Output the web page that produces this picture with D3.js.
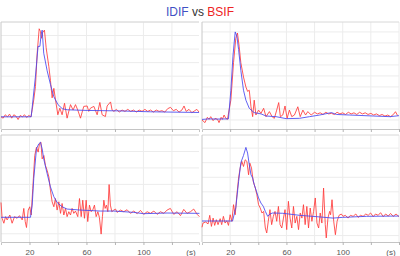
<!DOCTYPE html>
<html>
<head>
<meta charset="utf-8">
<script src="https://cdn.jsdelivr.net/npm/d3@7"></script>
<style>
  body { margin: 0; background: #fff; }
  svg { display: block; font-family: "Liberation Sans", Arial, sans-serif; }
</style>
</head>
<body>
<svg id="chart" width="400" height="256"></svg>
<script>
// time (s), value pairs; y units are arbitrary (one gridline = 1)
const xTickLabels = [20, 60, 100];

const tlBlue = [[0,0],[21.2,0],[24.2,3.0],[26,5.2],[27.3,5.2],[28.2,6.1],[28.9,6.4],[30,4.7],[32.4,3.4],[34.7,2.4],[37,1.5],[40,0.9],[43,0.6],[46.4,0.52],[60.5,0.47],[81.5,0.44],[105,0.37],[139,0.32]];
const tlRed = [[0,0],[1.5,-0.1],[3,0.15],[4.5,0],[6,0.2],[7.5,-0.1],[9,0.15],[10.5,0.05],[12,-0.2],[13.5,0.1],[15,0],[16.5,0.15],[18,-0.05],[19.5,0.1],[21,0],
  [21.9,0.52],[23,1.26],[24.2,2.25],[25.4,4.7],[26.8,6.5],[27.7,6.3],[28.4,5.8],[29.1,6.2],[30.5,6.4],[31.7,5.1],[33.6,3.7],[34.7,2.7],[35.9,1.4],[37.1,2.1],[38.2,1.3],
  [39.9,0.15],[41.3,0.64],[42.9,0.15],[44.6,1.0],[46.4,-0.1],[48.8,0.9],[50.6,0.5],[52.3,0.9],[53.9,0.5],[55.8,-0.1],[58.1,0.77],[60.5,0.8],[61.6,0.4],[62.8,0.64],
  [65.2,0.77],[67.5,0.15],[69.4,1.06],[71,0.15],[73.3,0.02],[74.5,0.8],[76.9,1.1],[78,0.5],[79.2,0.4],[81,0.55],[83,0.35],[85,0.5],[87,0.4],[89,0.55],[91,0.4],
  [93,0.5],[95,0.35],[97,0.5],[99,0.4],[101,0.55],[103,0.4],[105,0.5],[107,0.35],[109,0.5],[111,0.4],[113,0.45],[115,0.35],[117,0.6],[119,0.7],[121,0.45],[123,0.55],
  [125,0.35],[127,0.5],[128.5,0.8],[130,0.4],[132,0.55],[134,0.3],[136,0.45],[137.5,0.55],[139,0.35]];

const trBlue = [[0,0.05],[5,0.1],[10,0.08],[18.8,0.1],[20.5,2.7],[22,5.8],[23.6,8.0],[24.8,7.6],[26,6.4],[27.6,4.5],[29.5,2.7],[31.2,1.8],[33.6,1.06],[37,0.67],[42,0.55],[45.5,0.36],[52.6,0.3],[59.8,0.12],[69.3,0.15],[76.4,0.3],[83.6,0.45],[92,0.67],[95.5,0.5],[105,0.45],[121.7,0.36],[133.6,0.3],[140,0.39]];
const trRed = [[0,0],[2.1,-0.24],[3.8,0.24],[5,0.06],[6.2,0.3],[7.9,-0.06],[9.3,0.15],[11,0.06],[12.1,-0.24],[13.6,0.24],[14.5,0.06],[15.7,0.45],[16.9,0.15],[18.1,0.06],
  [20.5,1.8],[22.4,5.2],[24,7.4],[25.2,7.9],[26.4,6.7],[27.6,5.2],[29.5,3.9],[31.2,3.0],[32.4,2.6],[33.6,2.7],[34.8,1.2],[36,0.3],[37.1,1.8],[38.3,0.45],[40.2,0.9],
  [41.9,0.6],[43.8,1.06],[45.5,0.3],[47.9,0.76],[49.8,0.3],[51.4,0.15],[53.1,0.9],[54.5,1.58],[55.7,0.3],[57.4,0.45],[59,1.27],[60.5,0.15],[62.1,0.9],[63.8,0.3],
  [65.7,0.45],[68.1,1.2],[69.8,0.3],[71.7,0.9],[73.6,0.45],[75.2,0.76],[77.6,0.45],[80,0.7],[82,0.55],[84,0.65],[86,0.5],[88,0.7],[90,0.55],[92,0.6],[94,0.5],
  [96,0.7],[98,0.55],[100,0.65],[102,0.5],[104,0.7],[106,0.55],[108,0.65],[110,0.5],[112,0.7],[114,0.55],[116,0.65],[118,0.5],[120,0.6],[122,0.45],[124,0.55],
  [126,0.4],[128,0.5],[130,0.35],[132,0.45],[134,0.3],[136,0.5],[137.5,0.75],[139,0.4]];

const blBlue = [[0,0],[20.7,0],[21.9,0.74],[23,2.35],[24.9,4.16],[26.5,4.46],[27.7,4.56],[28.9,4.16],[30,3.55],[32.4,2.65],[34.7,1.85],[37.1,1.25],[39.4,0.9],[42.9,0.64],[46.4,0.5],[55.8,0.44],[69.8,0.38],[79.2,0.38],[93.2,0.3],[100,0.22],[116.6,0.26],[139.3,0.24]];
const blRed = [[0,0.9],[0.8,-0.06],[2,-0.36],[3.2,0.04],[4.3,-0.16],[6.2,0.14],[7.8,-0.36],[9.5,0.04],[11.3,-0.06],[13,0.1],[14.9,-0.16],[16,0.54],[17,-0.26],[17.9,-0.62],
  [19.1,0.44],[20.2,0.64],[21.2,0.14],[22.3,1.75],[23.7,3.75],[24.9,4.26],[26.1,3.96],[27,4.46],[28,4.56],[28.9,3.55],[30.1,3.75],[31.2,3.15],[32.4,2.85],[33.6,2.45],
  [34.7,1.65],[35.9,0.94],[37.1,0.64],[38.2,1.14],[39.4,0.44],[40.6,0.94],[41.8,0.24],[42.9,0.84],[44.1,0.14],[45.3,0.54],[46.4,0.04],[47.6,0.34],[48.8,0.14],
  [49.9,0.54],[51.1,0.24],[52.3,0.38],[53.9,0.04],[55.1,1.14],[56.3,0.04],[57.4,1.04],[58.6,-0.06],[59.8,1.04],[60.9,-0.26],[62.1,0.74],[63.3,0.34],[64.4,0.44],
  [65.6,0.74],[66.8,0.04],[68,0.34],[69.1,-0.02],[70.3,-1.02],[71.2,0.04],[72.2,1.04],[73.1,0.54],[74,0.74],[75,0.34],[75.9,1.99],[76.8,0.74],[77.8,0.34],[79.2,0.44],
  [80.4,0.5],[81.5,0.3],[83.9,0.44],[86.2,0.34],[88.5,0.46],[90.9,0.24],[93.2,0.38],[95.6,0.22],[97.9,0.42],[100.2,0.18],[102.6,0.34],[104.9,0.24],[107.3,0.38],
  [109.6,0.18],[111.9,0.34],[114.3,0.24],[116.6,0.44],[118.9,0.54],[121.3,0.18],[123.6,0.34],[126,0.1],[128.3,0.48],[130.6,0.24],[133,0.34],[135.3,0.5],[137.7,0.18],[139.3,0.04]];

const brBlue = [[0,0],[21.7,0],[24,0.9],[26,2.7],[27.6,4.0],[29.5,4.5],[31.2,5.05],[32.4,4.66],[33.6,3.86],[34.8,3.17],[36,2.95],[37.1,2.5],[38.8,2.0],[40.2,1.58],[41.9,1.23],[43.6,1.0],[45,0.66],[46.7,0.32],[48.3,0.48],[50.2,0.55],[57.4,0.53],[69.3,0.39],[81.2,0.3],[93.1,0.2],[100,0.25],[117,0.32],[140,0.34]];
const brRed = [[0,-0.43],[0.7,-0.14],[2.6,-0.07],[4.3,-0.2],[5.5,0.39],[6.7,-0.37],[7.9,0.2],[9,-0.3],[10.2,0.09],[11.4,-0.25],[12.9,0.16],[14,-0.25],[15.2,0.32],
  [16.4,-0.14],[17.6,0.02],[18.8,-0.3],[20,0.43],[21.2,-0.02],[22.4,1.12],[23.6,0.43],[24.8,1.8],[26,2.95],[27.1,3.63],[28.3,4.09],[29.5,3.74],[30.7,4.2],[31.9,4.09],
  [33.1,3.17],[34,3.97],[35.2,3.63],[36.4,2.72],[37.9,2.26],[39,1.8],[40.2,1.12],[41.4,0.89],[42.6,0.55],[43.8,0.66],[45,-0.48],[46,-0.82],[47.1,-0.02],[48.3,0.78],
  [49.5,-0.25],[50.7,0.32],[51.9,0.66],[53.1,-0.02],[54.3,1.0],[55.5,-0.25],[56.7,-0.48],[57.9,0.2],[59,0.78],[60.2,-0.59],[61.4,1.35],[62.6,0.2],[63.8,-0.48],
  [65,1.0],[66.2,-0.14],[67.4,0.32],[68.6,-0.59],[69.8,0.55],[71,0.2],[72.1,1.12],[73.3,-0.25],[74.5,1.0],[75.7,-0.48],[76.9,0.89],[78.1,-0.02],[79.3,0.66],
  [80.5,1.58],[81.7,-0.14],[82.9,-0.48],[84,0.55],[85.2,-0.14],[86.4,2.26],[87.6,-0.25],[88.3,-1.16],[89.5,0.2],[90.7,0.66],[91.4,0.43],[92.4,1.46],[93.6,-0.02],
  [94.8,-0.94],[96,-0.02],[97.4,0.39],[99,0.48],[100.2,0.32],[101.9,0.39],[103.8,0.2],[105.5,0.39],[107.4,0.32],[109.3,0.48],[111,0.25],[112.6,0.39],[114.5,0.32],
  [116.4,0.48],[118.1,0.39],[119.8,0.55],[121.7,0.3],[123.3,0.48],[125.2,0.39],[126.9,0.57],[128.8,0.3],[130.5,0.48],[132.4,0.34],[134,0.52],[135.9,0.32],[137.9,0.48],[140,0.3]];

const blueColor = '#4646f0';
const redColor = '#ff3b3b';

const svg = d3.select('#chart');

// title
const title = svg.append('text')
  .attr('x', 200).attr('y', 16)
  .attr('text-anchor', 'middle')
  .style('font-size', '12px');
title.append('tspan').attr('fill', '#3f51c4').text('IDIF');
title.append('tspan').attr('fill', '#333').text(' vs ');
title.append('tspan').attr('fill', '#ee2424').text('BSIF');

const panels = [
  { x: [1, 199], y: [22, 129], t: [0, 139], v: [-0.9, 7.0], blue: tlBlue, red: tlRed, labels: false },
  { x: [202, 399], y: [22, 129], t: [0, 140], v: [-0.82, 8.9], blue: trBlue, red: trRed, labels: false },
  { x: [1, 199], y: [135, 242], t: [0, 139], v: [-1.5, 5.0], blue: blBlue, red: blRed, labels: true },
  { x: [202, 399], y: [135, 242], t: [0, 140], v: [-1.44, 5.9], blue: brBlue, red: brRed, labels: true },
];

panels.forEach((p, i) => {
  const x = d3.scaleLinear().domain(p.t).range(p.x);
  const y = d3.scaleLinear().domain(p.v).range([p.y[1], p.y[0]]);
  const g = svg.append('g').attr('class', 'panel');

  // gridlines
  const xTicks = d3.range(0, p.t[1] + 0.01, 20).filter(d => d > 0);
  const yTicks = d3.range(Math.ceil(p.v[0]), Math.floor(p.v[1]) + 1);
  g.selectAll('.gx').data(xTicks).join('line')
    .attr('x1', d => x(d)).attr('x2', d => x(d))
    .attr('y1', p.y[0]).attr('y2', p.y[1])
    .attr('stroke', '#ececec').attr('stroke-width', 1);
  g.selectAll('.gy').data(yTicks).join('line')
    .attr('x1', p.x[0]).attr('x2', p.x[1])
    .attr('y1', d => y(d)).attr('y2', d => y(d))
    .attr('stroke', '#ececec').attr('stroke-width', 1);

  // frame (top + left)
  g.append('line').attr('x1', p.x[0]).attr('x2', p.x[1]).attr('y1', p.y[0]).attr('y2', p.y[0])
    .attr('stroke', '#d8d8d8');
  g.append('line').attr('x1', p.x[0]).attr('x2', p.x[0]).attr('y1', p.y[0]).attr('y2', p.y[1])
    .attr('stroke', '#c8c8c8');

  // bottom axis
  const axis = d3.axisBottom(x).tickValues(xTicks).tickSize(3)
    .tickFormat(d => p.labels && xTickLabels.includes(d) ? d : '');
  const ax = g.append('g').attr('transform', `translate(0,${p.y[1]})`).call(axis);
  ax.select('.domain').attr('stroke', '#c4c4c4');
  ax.selectAll('.tick line').attr('stroke', '#b4b4b4');
  ax.selectAll('.tick text').attr('fill', '#555').style('font-size', '8px')
    .style('font-family', '"Liberation Sans", Arial, sans-serif').attr('dy', '0.9em');
  if (p.labels) {
    g.append('text').attr('x', p.x[1] - 8).attr('y', p.y[1] + 13)
      .attr('text-anchor', 'middle').attr('fill', '#555')
      .style('font-size', '8px').text('(s)');
  }

  const line = d3.line().x(d => x(d[0])).y(d => y(d[1]));
  g.append('path').datum(p.red).attr('d', line)
    .attr('fill', 'none').attr('stroke', redColor).attr('stroke-width', 1).attr('stroke-opacity', 0.85);
  g.append('path').datum(p.blue).attr('d', line)
    .attr('fill', 'none').attr('stroke', blueColor).attr('stroke-width', 1).attr('stroke-opacity', 0.85);
});
</script>
</body>
</html>
